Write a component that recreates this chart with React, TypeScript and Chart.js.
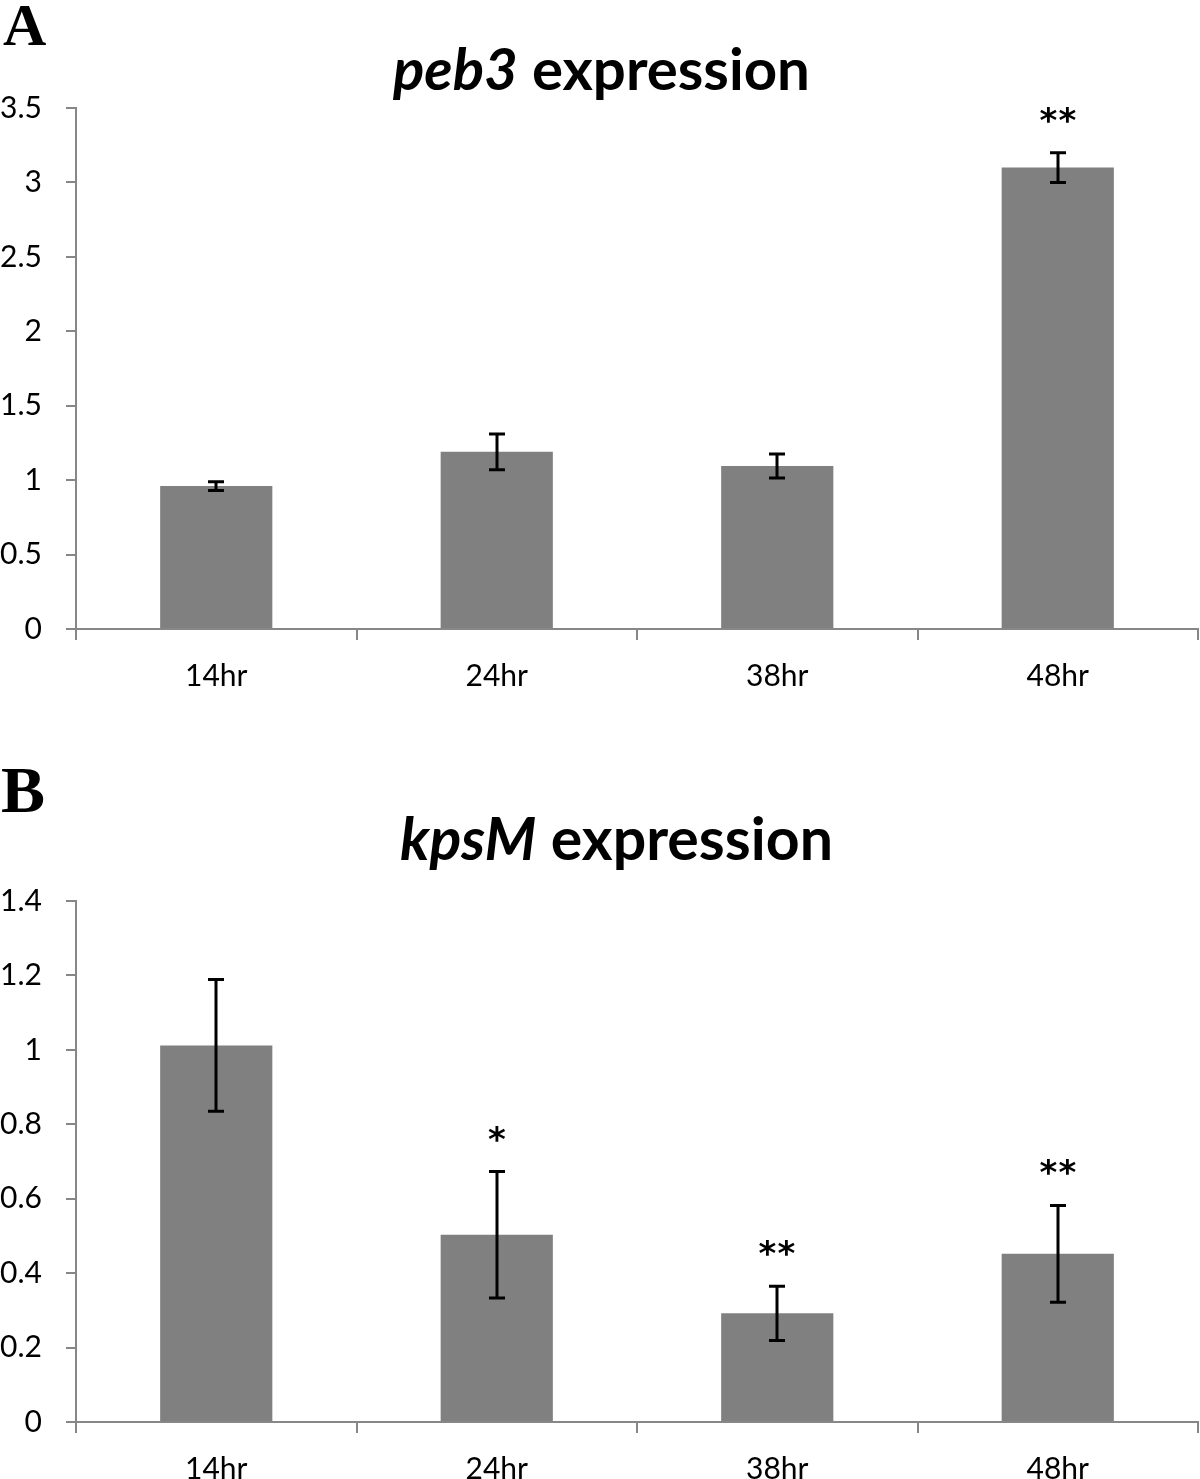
import React, { useEffect, useRef } from "react";
import { Chart, registerables } from "chart.js";

Chart.register(...registerables);

// ---------- data ----------
const categories = ["14hr", "24hr", "38hr", "48hr"];

const peb3Values = [0.96, 1.19, 1.095, 3.1];
const peb3Errors = [0.03, 0.12, 0.08, 0.1];
const peb3Marks = ["", "", "", "**"];
const peb3Ticks = [0, 0.5, 1, 1.5, 2, 2.5, 3, 3.5];
const peb3TickLabels = ["0", "0.5", "1", "1.5", "2", "2.5", "3", "3.5"];

const kpsMValues = [1.012, 0.503, 0.292, 0.452];
const kpsMErrors = [0.177, 0.17, 0.073, 0.13];
const kpsMMarks = ["", "*", "**", "**"];
const kpsMTicks = [0, 0.2, 0.4, 0.6, 0.8, 1, 1.2, 1.4];
const kpsMTickLabels = ["0", "0.2", "0.4", "0.6", "0.8", "1", "1.2", "1.4"];

// ---------- style ----------
const AXIS_COLOR = "#878787";
const BAR_COLOR = "#808080";
const FONT = "Lato";

type PanelProps = {
  top: number;
  height: number;
  letter: string;
  letterSize: number;
  letterX: number;
  letterBaseline: number;
  italicPart: string;
  restPart: string;
  titleLeft: number;
  titleWidth: number;
  titleBaseline: number;
  values: number[];
  errors: number[];
  marks: string[];
  ticks: number[];
  tickLabels: string[];
  max: number;
  areaTop: number;
  areaBottom: number;
};

function Panel(p: PanelProps) {
  const ref = useRef<HTMLCanvasElement | null>(null);

  useEffect(() => {
    const canvas = ref.current;
    if (!canvas) return;

    const overlay = {
      id: "overlay",
      afterDatasetsDraw(chart: any) {
        const ctx = chart.ctx as CanvasRenderingContext2D;
        const xs = chart.scales.x;
        const ys = chart.scales.y;
        ctx.save();
        ctx.strokeStyle = "#000";
        ctx.lineWidth = 3;
        ctx.lineCap = "butt";
        p.values.forEach((v, i) => {
          const e = p.errors[i];
          const x = Math.round(xs.getPixelForValue(i));
          const yT = ys.getPixelForValue(v + e);
          const yB = ys.getPixelForValue(v - e);
          ctx.beginPath();
          ctx.moveTo(x, yT);
          ctx.lineTo(x, yB);
          ctx.moveTo(x - 8, yT);
          ctx.lineTo(x + 8, yT);
          ctx.moveTo(x - 8, yB);
          ctx.lineTo(x + 8, yB);
          ctx.stroke();
          const m = p.marks[i];
          if (m) {
            ctx.fillStyle = "#000";
            ctx.font = `bold 34px "DejaVu Sans"`;
            ctx.textAlign = "center";
            ctx.textBaseline = "alphabetic";
            const met = ctx.measureText("*");
            const target = yT - 30;
            const n = m.length;
            for (let k = 0; k < n; k++) {
              const cx = x + (k - (n - 1) / 2) * 19;
              ctx.fillText("*", cx, target - met.actualBoundingBoxDescent);
            }
          }
        });
        ctx.restore();
      },
      afterDraw(chart: any) {
        const ctx = chart.ctx as CanvasRenderingContext2D;
        ctx.save();
        ctx.fillStyle = "#000";
        ctx.textBaseline = "alphabetic";
        ctx.textAlign = "left";
        ctx.font = `bold ${p.letterSize}px "Liberation Serif"`;
        ctx.fillText(p.letter, p.letterX, p.letterBaseline);
        const base = 60;
        ctx.font = `italic bold ${base}px ${FONT}`;
        const wi = ctx.measureText(p.italicPart).width;
        ctx.font = `bold ${base}px ${FONT}`;
        const wb = ctx.measureText(p.restPart).width;
        const size = (base * p.titleWidth) / (wi + wb);
        ctx.font = `italic bold ${size}px ${FONT}`;
        ctx.fillText(p.italicPart, p.titleLeft, p.titleBaseline);
        const w1 = ctx.measureText(p.italicPart).width;
        ctx.font = `bold ${size}px ${FONT}`;
        ctx.fillText(p.restPart, p.titleLeft + w1, p.titleBaseline);
        ctx.restore();
      },
    };

    const chart = new Chart(canvas, {
      type: "bar",
      data: {
        labels: categories,
        datasets: [
          {
            data: p.values,
            backgroundColor: BAR_COLOR,
            borderWidth: 0,
            barPercentage: 0.4,
            categoryPercentage: 1,
          },
        ],
      },
      options: {
        responsive: false,
        animation: false,
        events: [],
        layout: { padding: { left: 0, right: 2, top: p.areaTop, bottom: 0 } },
        plugins: {
          legend: { display: false },
          tooltip: { enabled: false },
          title: { display: false },
        },
        scales: {
          x: {
            type: "category",
            offset: true,
            grid: {
              offset: true,
              drawOnChartArea: false,
              drawTicks: true,
              tickLength: 11,
              color: AXIS_COLOR,
              lineWidth: 2,
            },
            border: { display: true, color: AXIS_COLOR, width: 2 },
            ticks: {
              color: "#000",
              font: { family: FONT, size: 30 },
              padding: 18,
              maxRotation: 0,
              autoSkip: false,
            },
            afterFit: (s: any) => {
              s.height = p.height - p.areaBottom;
            },
          },
          y: {
            min: 0,
            max: p.max,
            grid: {
              drawOnChartArea: false,
              drawTicks: true,
              tickLength: 10,
              color: AXIS_COLOR,
              lineWidth: 2,
            },
            border: { display: true, color: AXIS_COLOR, width: 2 },
            ticks: {
              color: "#000",
              font: { family: FONT, size: 30 },
              padding: 24,
              callback: (_v: any, idx: number) => p.tickLabels[idx],
            },
            afterBuildTicks: (s: any) => {
              s.ticks = p.ticks.map((v) => ({ value: v }));
            },
            afterFit: (s: any) => {
              s.width = 76;
            },
          },
        },
      } as any,
      plugins: [overlay],
    });

    return () => chart.destroy();
  }, []);

  return (
    <canvas
      ref={ref}
      width={1200}
      height={p.height}
      style={{ position: "absolute", left: 0, top: p.top, width: 1200, height: p.height, display: "block" }}
    />
  );
}

export default function App() {
  return (
    <div style={{ position: "absolute", left: 0, top: 0, width: 1200, height: 1479, background: "#fff", overflow: "hidden" }}>
      <Panel
        top={0}
        height={740}
        letter="A"
        letterSize={60}
        letterX={3}
        letterBaseline={45}
        italicPart="peb3"
        restPart=" expression"
        titleLeft={393}
        titleWidth={417}
        titleBaseline={90}
        values={peb3Values}
        errors={peb3Errors}
        marks={peb3Marks}
        ticks={peb3Ticks}
        tickLabels={peb3TickLabels}
        max={3.5}
        areaTop={108}
        areaBottom={629}
      />
      <Panel
        top={740}
        height={739}
        letter="B"
        letterSize={66}
        letterX={1}
        letterBaseline={72}
        italicPart="kpsM"
        restPart=" expression"
        titleLeft={400}
        titleWidth={433}
        titleBaseline={120}
        values={kpsMValues}
        errors={kpsMErrors}
        marks={kpsMMarks}
        ticks={kpsMTicks}
        tickLabels={kpsMTickLabels}
        max={1.4}
        areaTop={161}
        areaBottom={682}
      />
    </div>
  );
}
